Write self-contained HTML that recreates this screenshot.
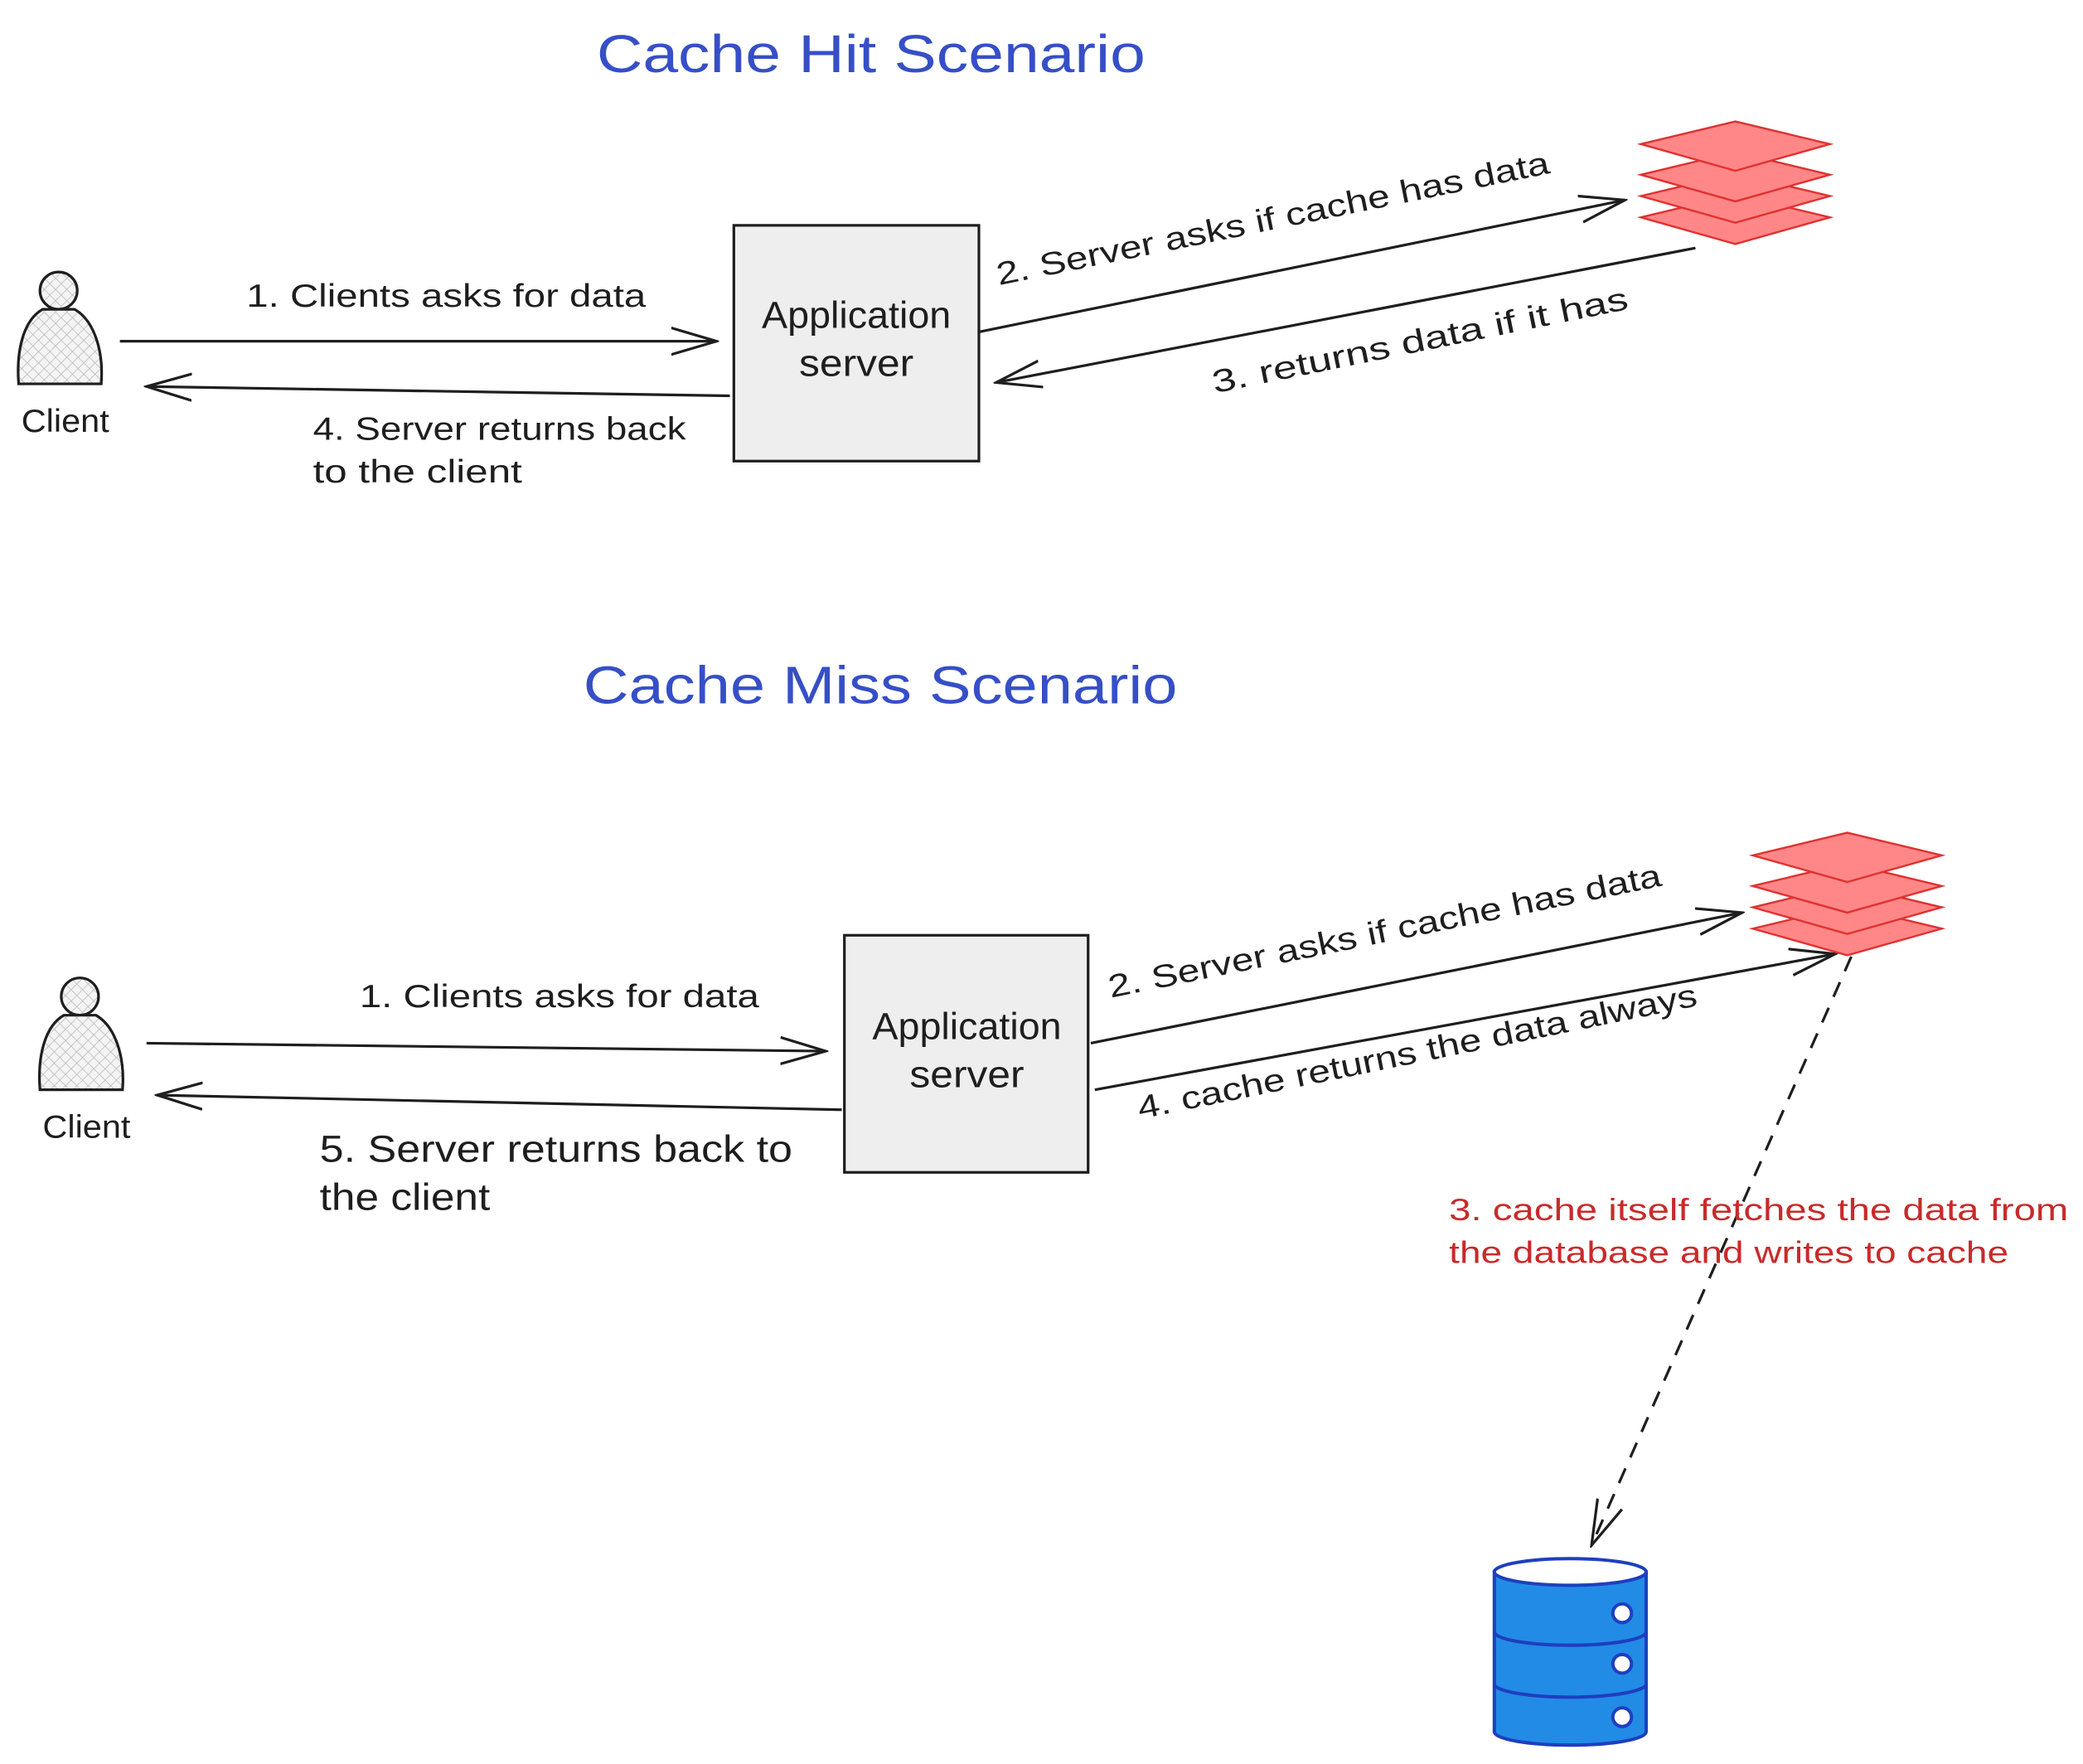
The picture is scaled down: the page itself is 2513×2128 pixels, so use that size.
<!DOCTYPE html>
<html><head><meta charset="utf-8"><style>
html,body{margin:0;padding:0;background:#fff;}
svg{display:block;}
text{font-family:"Liberation Sans",sans-serif;fill:#1e1e1e;}
</style></head><body>
<svg width="2513" height="2128" viewBox="0 0 1564 1324" xmlns="http://www.w3.org/2000/svg">
<defs>
<pattern id="hatch" width="6" height="6" patternUnits="userSpaceOnUse" patternTransform="rotate(45)">
<rect width="6" height="6" fill="#f4f4f4"/><line x1="0" y1="0" x2="0" y2="6" stroke="#bbb" stroke-width="1"/><line x1="0" y1="0" x2="6" y2="0" stroke="#bbb" stroke-width="1"/>
</pattern>
<marker id="ar2" markerWidth="36" markerHeight="24" refX="34" refY="12" orient="auto" markerUnits="userSpaceOnUse">
<path d="M0,2 L34,12 L0,22" fill="none" stroke="#1e1e1e" stroke-width="2"/>
</marker>
<g id="stack">
<polygon points="0,72 71,55 142,72 71,92" fill="#ff8787" stroke="#e03131" stroke-width="1.5"/>
<polygon points="0,56 71,39 142,56 71,76" fill="#ff8787" stroke="#e03131" stroke-width="1.5"/>
<polygon points="0,40 71,23 142,40 71,60" fill="#ff8787" stroke="#e03131" stroke-width="1.5"/>
<polygon points="0,17 71,0 142,17 71,37" fill="#ff8787" stroke="#e03131" stroke-width="1.5"/>
</g>
<g id="person">
<circle cx="32" cy="14" r="14" fill="url(#hatch)" stroke="#1e1e1e" stroke-width="2"/>
<path d="M20,28 C6,36 0,58 2,84 L64,84 C66,58 58,36 44,28 Z" fill="url(#hatch)" stroke="#1e1e1e" stroke-width="2"/>
</g>
</defs>

<!-- Cache Hit -->
<text x="448" y="54" font-size="40" textLength="412" lengthAdjust="spacingAndGlyphs" style="fill:#364fc7">Cache Hit Scenario</text>
<use href="#person" x="12" y="204"/>
<text x="16" y="324" font-size="24" textLength="66" lengthAdjust="spacingAndGlyphs">Client</text>
<line x1="90" y1="256" x2="538" y2="256" stroke="#1e1e1e" stroke-width="2" marker-end="url(#ar2)"/>
<text x="185" y="230" font-size="24" textLength="300" lengthAdjust="spacingAndGlyphs">1. Clients asks for data</text>
<rect x="551" y="169" width="184" height="177" fill="#eeeeee" stroke="#1e1e1e" stroke-width="2"/>
<text x="572" y="246" font-size="28" textLength="142" lengthAdjust="spacingAndGlyphs">Application</text>
<text x="600" y="282" font-size="28" textLength="86" lengthAdjust="spacingAndGlyphs">server</text>
<line x1="548" y1="297" x2="110" y2="290" stroke="#1e1e1e" stroke-width="2" marker-end="url(#ar2)"/>
<text x="235" y="330" font-size="24" textLength="280" lengthAdjust="spacingAndGlyphs">4. Server returns back</text>
<text x="235" y="362" font-size="24" textLength="157" lengthAdjust="spacingAndGlyphs">to the client</text>
<line x1="735" y1="249" x2="1220" y2="150" stroke="#1e1e1e" stroke-width="2" marker-end="url(#ar2)"/>
<text x="0" y="0" font-size="24" textLength="423" lengthAdjust="spacingAndGlyphs" transform="translate(750,214) rotate(-11.5)">2. Server asks if cache has data</text>
<line x1="1273" y1="186" x2="748" y2="287" stroke="#1e1e1e" stroke-width="2" marker-end="url(#ar2)"/>
<text x="0" y="0" font-size="24" textLength="318" lengthAdjust="spacingAndGlyphs" transform="translate(912,295) rotate(-11.5)">3. returns data if it has</text>
<use href="#stack" x="1232" y="91"/>

<!-- Cache Miss -->
<text x="438" y="528" font-size="40" textLength="446" lengthAdjust="spacingAndGlyphs" style="fill:#364fc7">Cache Miss Scenario</text>
<use href="#person" x="28" y="734"/>
<text x="32" y="854" font-size="24" textLength="66" lengthAdjust="spacingAndGlyphs">Client</text>
<line x1="110" y1="783" x2="620" y2="789" stroke="#1e1e1e" stroke-width="2" marker-end="url(#ar2)"/>
<text x="270" y="756" font-size="24" textLength="300" lengthAdjust="spacingAndGlyphs">1. Clients asks for data</text>
<rect x="634" y="702" width="183" height="178" fill="#eeeeee" stroke="#1e1e1e" stroke-width="2"/>
<text x="655" y="780" font-size="28" textLength="142" lengthAdjust="spacingAndGlyphs">Application</text>
<text x="683" y="816" font-size="28" textLength="86" lengthAdjust="spacingAndGlyphs">server</text>
<line x1="632" y1="833" x2="118" y2="822" stroke="#1e1e1e" stroke-width="2" marker-end="url(#ar2)"/>
<text x="240" y="872" font-size="28" textLength="355" lengthAdjust="spacingAndGlyphs">5. Server returns back to</text>
<text x="240" y="908" font-size="28" textLength="128" lengthAdjust="spacingAndGlyphs">the client</text>
<line x1="819" y1="783" x2="1308" y2="685" stroke="#1e1e1e" stroke-width="2" marker-end="url(#ar2)"/>
<text x="0" y="0" font-size="24" textLength="423" lengthAdjust="spacingAndGlyphs" transform="translate(834,749) rotate(-11.5)">2. Server asks if cache has data</text>
<line x1="822" y1="818" x2="1378" y2="716" stroke="#1e1e1e" stroke-width="2" marker-end="url(#ar2)"/>
<text x="0" y="0" font-size="24" textLength="428" lengthAdjust="spacingAndGlyphs" transform="translate(856,840) rotate(-11.5)">4. cache returns the data always</text>
<use href="#stack" x="1316" y="625"/>
<line x1="1390" y1="718" x2="1195" y2="1160" stroke="#1e1e1e" stroke-width="2" stroke-dasharray="12,9" marker-end="url(#ar2)"/>
<text x="1088" y="916" font-size="23" textLength="465" lengthAdjust="spacingAndGlyphs" style="fill:#c92a2a">3. cache itself fetches the data from</text>
<text x="1088" y="948" font-size="23" textLength="420" lengthAdjust="spacingAndGlyphs" style="fill:#c92a2a">the database and writes to cache</text>

<!-- DB -->
<g stroke="#1e3fbf" stroke-width="2.5">
<path d="M1122,1180 L1122,1300 A57,10 0 0 0 1236,1300 L1236,1180 Z" fill="#228be6"/>
<ellipse cx="1179" cy="1180" rx="57" ry="10" fill="#ffffff"/>
<path d="M1122,1225 A57,10 0 0 0 1236,1225" fill="none"/>
<path d="M1122,1264 A57,10 0 0 0 1236,1264" fill="none"/>
<circle cx="1218" cy="1211" r="7" fill="#fff"/>
<circle cx="1218" cy="1249" r="7" fill="#fff"/>
<circle cx="1218" cy="1289" r="7" fill="#fff"/>
</g>
</svg>
</body></html>
